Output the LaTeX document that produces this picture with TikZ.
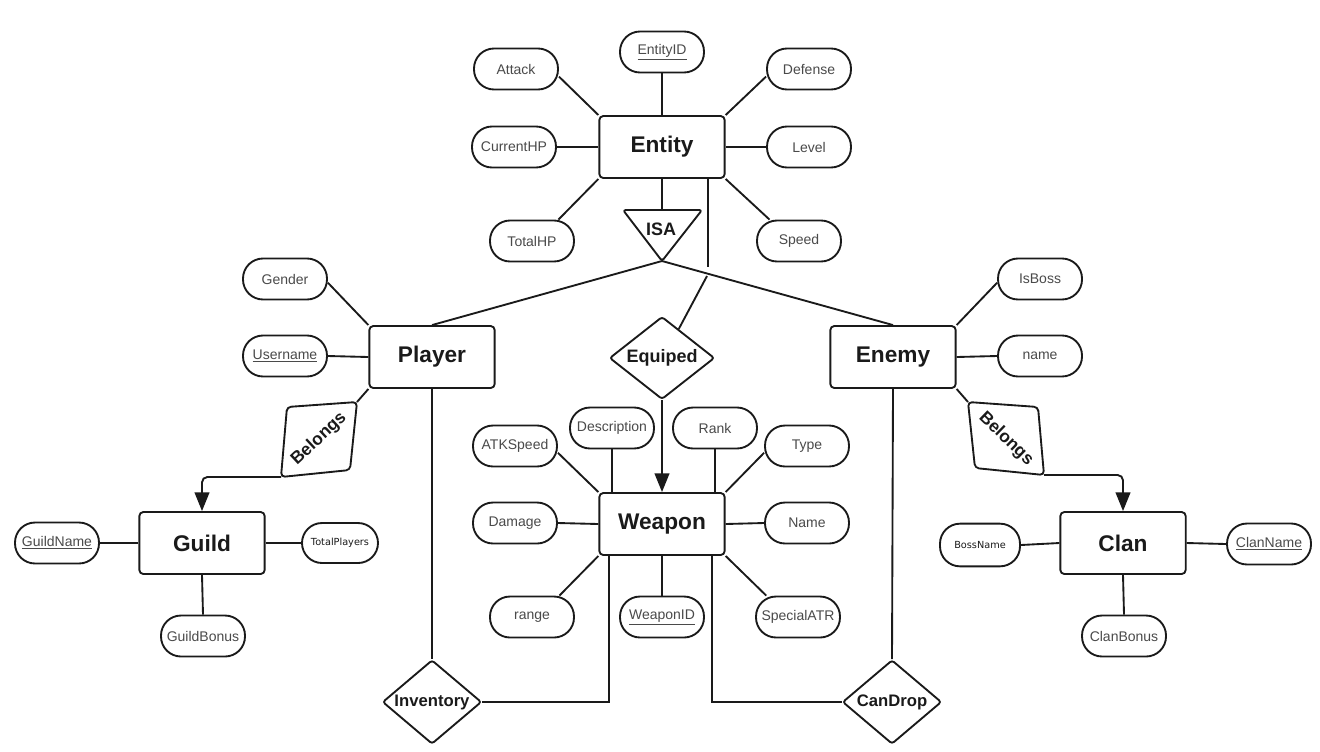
\documentclass[tikz,border=0pt]{standalone}
\usepackage{fontspec}
\setmainfont{Liberation Sans}
\newfontfamily\dejavu{DejaVu Sans}
\usetikzlibrary{arrows.meta,shapes.geometric}
\definecolor{attrgray}{HTML}{4A4A4A}
\definecolor{ink}{HTML}{1A1A1A}
\begin{document}
\begin{tikzpicture}[x=0.75pt,y=-0.75pt,
  attr/.style={draw=ink, line width=1.4pt, rectangle, rounded corners=15pt, minimum width=63pt, minimum height=30.75pt, inner sep=0pt, text=attrgray, font=\fontsize{10.5}{12}\selectfont},
  smallattr/.style={attr, minimum width=57pt, minimum height=30pt, text=ink, font=\dejavu\fontsize{7.3}{9}\selectfont},
  ent/.style={draw=ink, line width=1.4pt, rectangle, rounded corners=3pt, minimum width=94pt, minimum height=46.5pt, inner sep=0pt, text=ink, font=\fontsize{17}{20}\selectfont\bfseries},
  rel/.style={draw=ink, line width=1.4pt, diamond, inner sep=0pt, rounded corners=2pt},
  rellabel/.style={text=ink, font=\fontsize{13}{15}\selectfont\bfseries, inner sep=0pt},
  conn/.style={draw=ink, line width=1.4pt},
  arr/.style={conn, -{Triangle[length=14pt,width=11pt]}},
]
\useasboundingbox (0,0) rectangle (1320,751);
\fill[white] (0,0) rectangle (1320,751);

% ---------- Entity ----------
\node[ent] (entity) at (662,147) {Entity};
\node[attr] (entityid) at (662,52) {\underline{EntityID}};
\node[attr] (attack) at (516,69) {Attack};
\node[attr] (defense) at (809,69) {Defense};
\node[attr] (currenthp) at (514,147) {CurrentHP};
\node[attr] (level) at (809,147) {Level};
\node[attr] (totalhp) at (532,241) {TotalHP};
\node[attr] (speed) at (799,241) {Speed};

\draw[conn] (entityid.south) -- (entity.north);
\draw[conn] (attack.-10) -- (entity.north west);
\draw[conn] (defense.190) -- (entity.north east);
\draw[conn] (currenthp.east) -- (entity.west);
\draw[conn] (level.west) -- (entity.east);
\draw[conn] (totalhp.39) -- (entity.south west);
\draw[conn] (speed.144) -- (entity.south east);

% ---------- ISA ----------
\coordinate (isaL) at (623,210);
\coordinate (isaR) at (702,210);
\coordinate (isaA) at (662,261);
\coordinate (isaTop) at (662,210);
\draw[draw=ink, line width=1.4pt, rounded corners=2pt, line join=round] (isaL) -- (isaR) -- (isaA) -- cycle;
\node[rellabel, font=\fontsize{13.5}{15}\selectfont\bfseries] (isa) at (661,229) {ISA};
\draw[conn] (entity.south) -- (isaTop);

% ---------- Player / Enemy ----------
\node[ent] (player) at (432,357) {Player};
\node[attr] (gender) at (285,279) {Gender};
\node[attr] (username) at (285,356) {\underline{Username}};
\node[ent] (enemy) at (893,357) {Enemy};
\node[attr] (isboss) at (1040,279) {IsBoss};
\node[attr] (ename) at (1040,356) {name};

\draw[conn] (isaA) -- (player.north);
\draw[conn] (isaA) -- (enemy.north);
\draw[conn] (gender.-5) -- (player.north west);
\draw[conn] (username.east) -- (player.west);
\draw[conn] (isboss.185) -- (enemy.north east);
\draw[conn] (ename.west) -- (enemy.east);

% ---------- Equiped ----------
\node[rel, minimum width=78.75pt, minimum height=62pt,
  label={[rellabel, font=\fontsize{13.5}{15}\selectfont\bfseries]center:Equiped}] (equiped) at (662,358) {};
\coordinate (eqA) at (708,267);
\coordinate (eqB) at (707,276);
\draw[draw=ink, line width=2pt] ([xshift=34.5pt]entity.south) -- (eqA);
\draw[conn] (eqB) -- (equiped.60);

% ---------- Weapon ----------
\node[ent] (weapon) at (662,524) {Weapon};
\node[attr] (description) at (612,428) {Description};
\node[attr] (rank) at (715,428) {Rank};
\node[attr] (atkspeed) at (515,446) {ATKSpeed};
\node[attr] (type) at (807,446) {Type};
\node[attr] (damage) at (515,523) {Damage};
\node[attr] (wname) at (807,523) {Name};
\node[attr] (range) at (532,617) {range};
\node[attr] (weaponid) at (662,617) {\underline{WeaponID}};
\node[attr] (specialatr) at (798,617) {SpecialATR};

\draw[arr] (equiped.south) -- (weapon.north);
\draw[conn] (description.south) -- (description.south |- weapon.north);
\draw[conn] (rank.south) -- (rank.south |- weapon.north);
\draw[conn] (atkspeed.-9) -- (weapon.north west);
\draw[conn] (type.189) -- (weapon.north east);
\draw[conn] (damage.east) -- (weapon.west);
\draw[conn] (wname.west) -- (weapon.east);
\draw[conn] (range.38) -- (weapon.south west);
\draw[conn] (weaponid.north) -- (weapon.south);
\draw[conn] (specialatr.146) -- (weapon.south east);

% ---------- Belongs (left) ----------
\coordinate (blTL) at (287,407);
\coordinate (blTR) at (357,402);
\coordinate (blBR) at (350,470);
\coordinate (blBL) at (281,477);
\draw[draw=ink, line width=1.4pt, rounded corners=3pt] (blTL) -- (blTR) -- (blBR) -- (blBL) -- cycle;
\node[rellabel, rotate=43] (belongsL) at (319,439) {Belongs};

% ---------- Belongs (right) ----------
\coordinate (brTL) at (968,402);
\coordinate (brTR) at (1038,407);
\coordinate (brBR) at (1044,475);
\coordinate (brBL) at (975,468);
\draw[draw=ink, line width=1.4pt, rounded corners=3pt] (brTL) -- (brTR) -- (brBR) -- (brBL) -- cycle;
\node[rellabel, rotate=-44] (belongsR) at (1006,439) {Belongs};

% ---------- Guild ----------
\node[ent] (guild) at (202,543) {Guild};
\node[attr] (guildname) at (57,543) {\underline{GuildName}};
\node[smallattr] (totalplayers) at (340,543) {TotalPlayers};
\node[attr] (guildbonus) at (203,636) {GuildBonus};

\draw[conn] (player.south west) -- (blTR);
\draw[arr, rounded corners=4pt] (blBL) -| (guild.north);
\draw[conn] (guildname.east) -- (guild.west);
\draw[conn] (guild.east) -- (totalplayers.west);
\draw[conn] (guild.south) -- (guildbonus.north);

% ---------- Clan ----------
\node[ent] (clan) at (1123,543) {Clan};
\node[smallattr, minimum width=60pt, minimum height=32pt] (bossname) at (980,545) {BossName};
\node[attr] (clanname) at (1269,544) {\underline{ClanName}};
\node[attr] (clanbonus) at (1124,636) {ClanBonus};

\draw[conn] (enemy.south east) -- (brTL);
\draw[arr, rounded corners=4pt] (brBR) -| (clan.north);
\draw[conn] (bossname.east) -- (clan.west);
\draw[conn] (clan.east) -- (clanname.west);
\draw[conn] (clan.south) -- (clanbonus.north);

% ---------- Inventory / CanDrop ----------
\node[rel, minimum width=74.25pt, minimum height=63pt,
  label={[rellabel, font=\fontsize{12.5}{15}\selectfont\bfseries]center:Inventory}] (inventory) at (432,702) {};
\node[rel, minimum width=74.25pt, minimum height=63pt,
  label={[rellabel, font=\fontsize{12.5}{15}\selectfont\bfseries]center:CanDrop}] (candrop) at (892,702) {};

\draw[conn] (player.south) -- (inventory.north);
\draw[conn] (enemy.south) -- (candrop.north);
\draw[conn] (inventory.east) -| ([xshift=8.25pt]weapon.south west);
\draw[conn] (candrop.west) -| ([xshift=-10pt]weapon.south east);
\end{tikzpicture}
\end{document}
